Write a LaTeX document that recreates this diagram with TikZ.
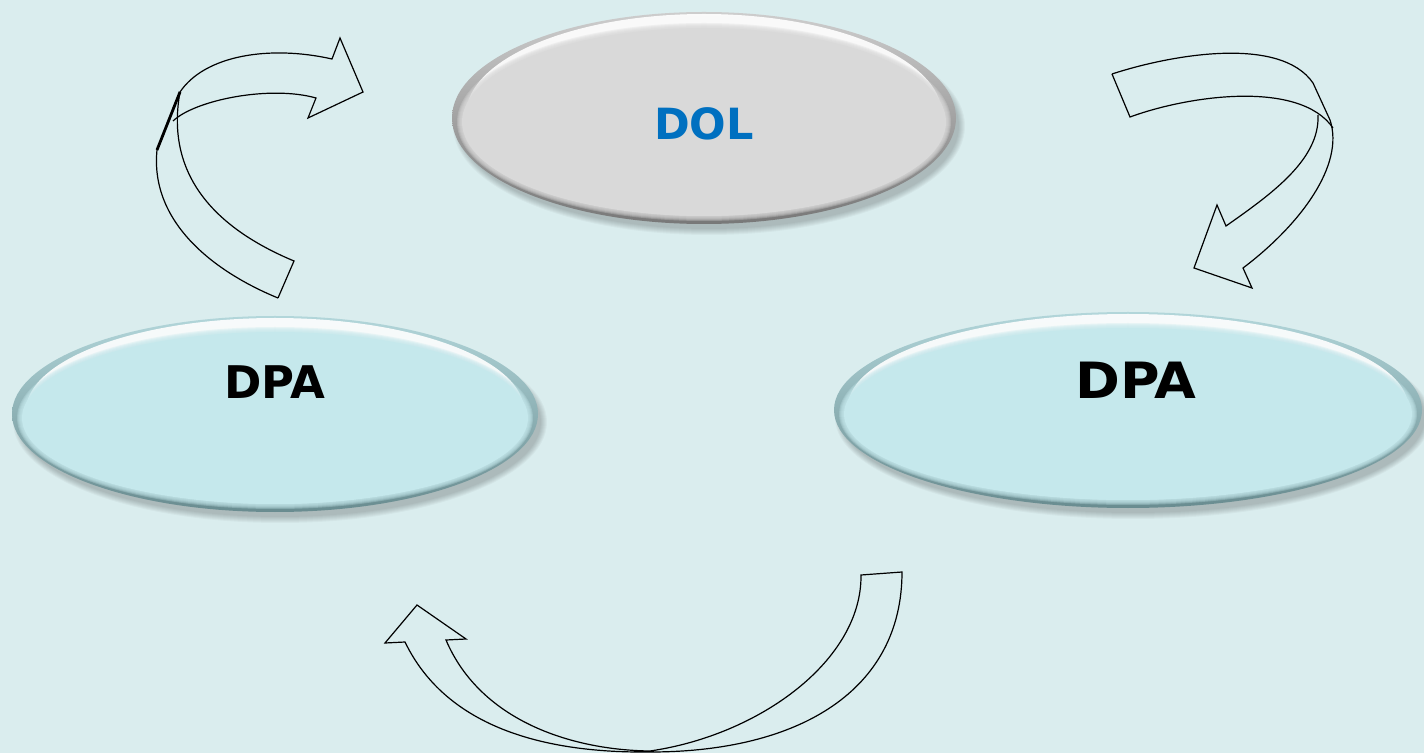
\documentclass[tikz,border=0pt]{standalone}
\usepackage{fontspec}
\setmainfont{DejaVu Sans}

\definecolor{backc}{RGB}{218,237,238}
\definecolor{dolblue}{RGB}{0,112,192}
\definecolor{dolface}{RGB}{217,217,217}
\definecolor{dolrimtop}{RGB}{205,205,205}
\definecolor{dolrimbot}{RGB}{120,120,120}
\definecolor{dpaface}{RGB}{197,232,236}
\definecolor{dparimtop}{RGB}{178,214,218}
\definecolor{dparimbot}{RGB}{105,140,144}

\tikzset{
  ribbon/.style={draw=black, line width=0.6pt, line join=miter},
  twist/.style={draw=black, line width=1.4pt},
  dol/.style={inner sep=0pt, text=dolblue, font=\fontsize{21.5}{25}\selectfont\bfseries},
  dpa/.style={inner sep=0pt, text=black, font=\fontsize{22.5}{26}\selectfont\bfseries}
}

\begin{document}
\begin{tikzpicture}[x=0.5pt, y=0.5pt]
  \fill[backc] (0,0) rectangle (1424,-753);
  \useasboundingbox (0,0) rectangle (1424,-753);

  % the three bubbles: x, y, x radius, y radius, face, rim top, rim bottom
  \foreach \cx/\cy/\rx/\ry/\face/\rtop/\rbot in {
      704/-118/252/106/dolface/dolrimtop/dolrimbot,
      275/-414/263/98/dpaface/dparimtop/dparimbot,
      1128/-410/294/98/dpaface/dparimtop/dparimbot}{
    \foreach \i in {1,...,7}
      \fill[black, opacity=0.03] ({\cx+5},{\cy-8}) ellipse [x radius={\rx+5-\i}, y radius={\ry+4-\i}];
    \shade[top color=\rtop, bottom color=\rbot] (\cx,\cy) ellipse [x radius=\rx, y radius=\ry];
    \fill[white, opacity=0.9] (\cx,{\cy+3}) ellipse [x radius={\rx-14}, y radius={\ry-5}];
    \foreach \k in {5,...,1}
      \fill[\face, opacity=0.3] (\cx,{\cy-4}) ellipse [x radius={\rx-10+\k}, y radius={\ry-12+\k}];
    \fill[\face] (\cx,{\cy-4}) ellipse [x radius={\rx-10}, y radius={\ry-12}];
  }

  \node[dol] (dol) at (704,-124) {DOL};
  \node[dpa] (dpaL) at (275,-382) {DPA};
  \node[dpa, font=\fontsize{25}{29}\selectfont\bfseries] (dpaR) at (1136,-380) {\scalebox{1.08}[1]{DPA}};

  % arrow from left DPA up to DOL
  \draw[ribbon] (278,-298) .. controls (210,-270) and (150,-220) .. (157,-150) -- (180,-92)
    .. controls (205,-55) and (270,-45) .. (332,-59) -- (340,-38) -- (363,-92) -- (308,-118) -- (316,-98)
    .. controls (270,-85) and (195,-100) .. (173,-121);
  \draw[ribbon] (180,-92) .. controls (165,-175) and (215,-228) .. (294,-261) -- (278,-298);
  \draw[twist] (157,-150) -- (180,-92);

  % arrow from DOL down to right DPA
  \draw[ribbon] (1112,-74) .. controls (1170,-55) and (1280,-35) .. (1313,-83) -- (1330,-120)
    .. controls (1345,-165) and (1300,-225) .. (1243,-268) -- (1252,-288) -- (1194,-268) -- (1217,-205) -- (1226,-226)
    .. controls (1270,-195) and (1320,-160) .. (1318,-115);
  \draw[ribbon] (1333,-128) .. controls (1300,-80) and (1190,-95) .. (1130,-117) -- (1112,-74);

  % arrow from right DPA round to left DPA
  \draw[ribbon] (861,-575) -- (902,-572) .. controls (902,-690) and (800,-752) .. (650,-752)
    .. controls (560,-753) and (450,-735) .. (405,-642) -- (385,-643) -- (417,-605) -- (466,-639) -- (446,-640)
    .. controls (480,-720) and (570,-750) .. (650,-751)
    .. controls (760,-735) and (862,-660) .. (861,-575) -- cycle;
\end{tikzpicture}
\end{document}
